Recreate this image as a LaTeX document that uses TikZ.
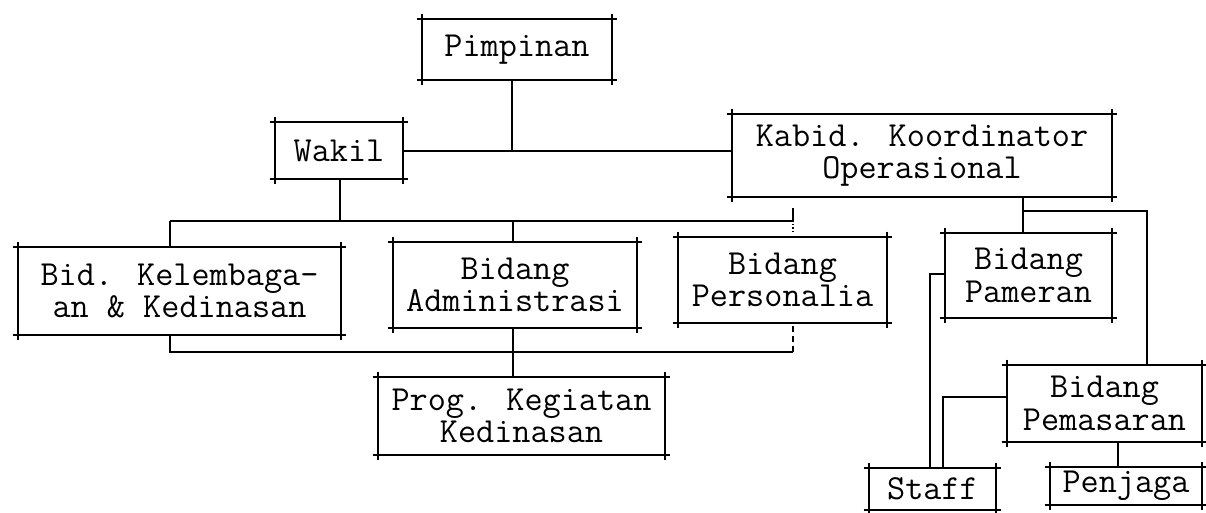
\documentclass[tikz,border=0pt]{standalone}
\usepackage{fontspec}
\usetikzlibrary{calc}
\begin{document}
\begin{tikzpicture}[x=0.5pt,y=-0.5pt,
  box/.style={draw=none, inner sep=0pt, align=center,
    font=\ttfamily\fontsize{17.6}{16.2}\selectfont},
  edge/.style={line width=1pt, shorten <=-2.5pt, shorten >=-2.5pt},
  conn/.style={line width=0.6pt}]
\useasboundingbox (0,0) rectangle (1206,513);
% boxes
\node[box, minimum width=190*0.5pt, minimum height=61*0.5pt] (pim) at (517,49.5) {Pimpinan};
\node[box, minimum width=128*0.5pt, minimum height=57*0.5pt] (wak) at (339,150.5) {Wakil};
\node[box, minimum width=380*0.5pt, minimum height=83*0.5pt] (kab) at (922,155.5) {Kabid. Koordinator\\Operasional};
\node[box, minimum width=323*0.5pt, minimum height=88*0.5pt] (kel) at (179.5,291) {Bid. Kelembaga-\\an \& Kedinasan};
\node[box, minimum width=244*0.5pt, minimum height=86*0.5pt] (adm) at (515,285) {Bidang\\Administrasi};
\node[box, minimum width=209*0.5pt, minimum height=86*0.5pt] (per) at (782.5,280) {Bidang\\Personalia};
\node[box, minimum width=287*0.5pt, minimum height=78*0.5pt] (prog) at (521.5,416) {Prog. Kegiatan\\Kedinasan};
\node[box, minimum width=167*0.5pt, minimum height=85*0.5pt] (pam) at (1028.5,275.5) {Bidang\\Pameran};
\node[box, minimum width=195*0.5pt, minimum height=77*0.5pt] (pem) at (1104.5,403.5) {Bidang\\Pemasaran};
\node[box, minimum width=127*0.5pt, minimum height=42*0.5pt] (sta) at (932.5,489) {Staff};
\node[box, minimum width=152*0.5pt, minimum height=38*0.5pt] (pen) at (1126,486) {Penjaga};
% box edges with overshooting corners
\foreach \n in {pim,wak,kab,kel,adm,per,prog,pam,pem,sta,pen}{
  \draw[edge] (\n.north west) -- (\n.north east);
  \draw[edge] (\n.south west) -- (\n.south east);
  \draw[edge] (\n.north west) -- (\n.south west);
  \draw[edge] (\n.north east) -- (\n.south east);
}
% connectors
\coordinate (top) at (512,151);
\draw[conn] (pim.south -| top) -- (top);
\draw[conn] (wak.east |- top) -- (kab.west |- top);
\coordinate (b1L) at (170,221);
\coordinate (b1R) at (793,221);
\coordinate (wx) at (340,221);
\draw[conn] (wak.south -| wx) -- (wx);
\draw[conn] (b1L) -- (b1R);
\draw[conn] (b1L) -- (b1L |- kel.north);
\coordinate (ax) at (513,221);
\draw[conn] (ax) -- (ax |- adm.north);
\draw[conn] ($(b1R)+(0,-13)$) -- (b1R);
\draw[conn, densely dotted] (b1R) -- ($(b1R)+(0,11)$);
\coordinate (b2L) at (170,352);
\coordinate (b2R) at (793,352);
\draw[conn] (b2L |- kel.south) -- (b2L) -- (b2R);
\draw[conn, densely dashed] (b2R) -- (b2R |- per.south);
\draw[conn] (ax |- adm.south) -- (ax |- prog.north);
\coordinate (kx) at (1023,211);
\coordinate (kr) at (1147,211);
\draw[conn] (kx |- kab.south) -- (kx |- pam.north);
\draw[conn] (kx) -- (kr) -- (kr |- pem.north);
\coordinate (s1) at (930,274);
\draw[conn] (s1 -| pam.west) -- (s1) -- (s1 |- sta.north);
\coordinate (s2) at (943,397);
\draw[conn] (s2 -| pem.west) -- (s2) -- (s2 |- sta.north);
\coordinate (px) at (1118,442);
\draw[conn] (px |- pem.south) -- (px |- pen.north);
\end{tikzpicture}
\end{document}
